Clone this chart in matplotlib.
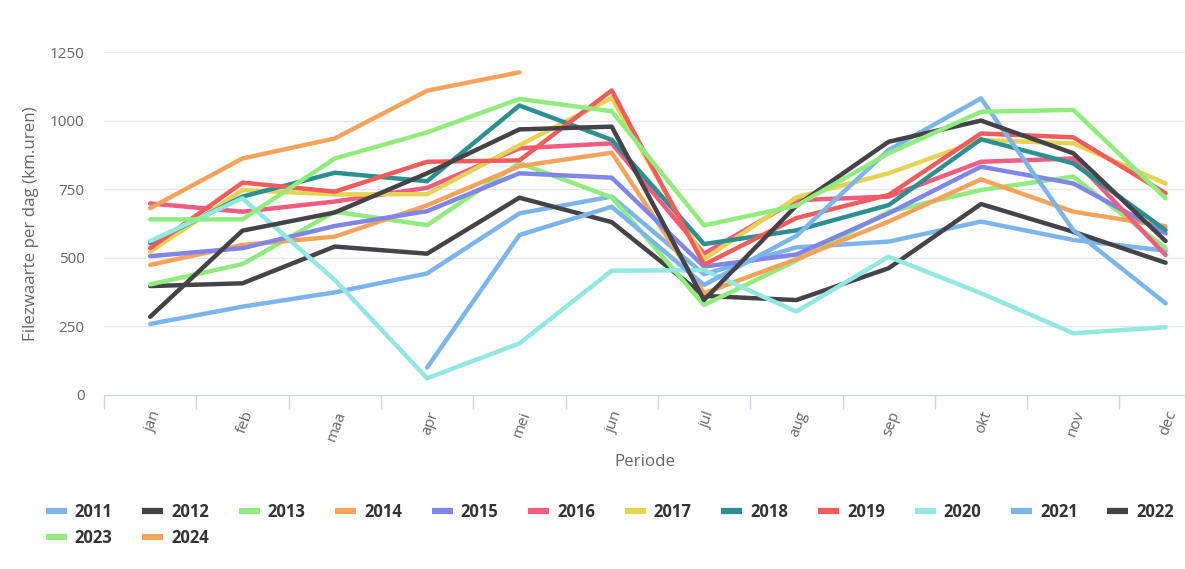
import numpy as np
import matplotlib.pyplot as plt
from matplotlib.lines import Line2D

plt.rcParams['font.family'] = ['Open Sans', 'DejaVu Sans']

maanden = ["jan", "feb", "maa", "apr", "mei", "jun", "jul", "aug", "sep", "okt", "nov", "dec"]
jaren = ["2011", "2012", "2013", "2014", "2015", "2016", "2017",
         "2018", "2019", "2020", "2021", "2022", "2023", "2024"]

nan = np.nan
y2011 = [259, 322, 374, 443, 662, 723, 440, 538, 559, 632, 565, 526]
y2012 = [397, 407, 541, 515, 719, 630, 361, 346, 462, 696, 595, 482]
y2013 = [403, 477, 668, 619, 845, 720, 328, 490, 668, 747, 796, 535]
y2014 = [474, 547, 577, 691, 834, 883, 371, 495, 632, 786, 668, 615]
y2015 = [506, 535, 616, 670, 808, 792, 468, 512, 662, 832, 771, 589]
y2016 = [698, 668, 705, 755, 899, 917, 515, 710, 723, 850, 862, 510]
y2017 = [522, 747, 731, 732, 910, 1083, 495, 720, 808, 929, 917, 771]
y2018 = [554, 723, 810, 779, 1055, 930, 550, 600, 692, 932, 844, 601]
y2019 = [535, 774, 741, 850, 855, 1110, 475, 645, 729, 953, 939, 735]
y2020 = [561, 717, 419, 61, 188, 453, 455, 304, 504, 371, 225, 247]
y2021 = [nan, nan, nan, 100, 583, 686, 401, 580, 893, 1081, 601, 334]
y2022 = [285, 599, 665, 808, 968, 978, 346, 690, 923, 1000, 881, 561]
y2023 = [640, 640, 862, 957, 1079, 1034, 618, 690, 881, 1032, 1039, 717]
y2024 = [681, 862, 935, 1109, 1176, nan, nan, nan, nan, nan, nan, nan]

reeksen = [y2011, y2012, y2013, y2014, y2015, y2016, y2017,
           y2018, y2019, y2020, y2021, y2022, y2023, y2024]

kleuren = ["#7cb5ec", "#434348", "#90ed7d", "#f7a35c", "#8085e9", "#f15c80", "#e4d354",
           "#2b908f", "#f45b5b", "#91e8e1", "#7cb5ec", "#434348", "#90ed7d", "#f7a35c"]

fig = plt.figure(figsize=(11.85, 5.69), dpi=100)
ax = fig.add_axes([104 / 1185, 174 / 569, 1 - 104 / 1185, 343 / 569])

x = np.arange(len(maanden))
for jaar, waarden, kleur in zip(jaren, reeksen, kleuren):
    ax.plot(x, waarden, color=kleur, lw=3.2, solid_joinstyle="round",
            solid_capstyle="round", label=jaar)

ax.set_yticks([0, 250, 500, 750, 1000, 1250])
ax.yaxis.grid(True, color="#e6e6e6", lw=1)
ax.set_axisbelow(True)
for s in ["top", "right", "left"]:
    ax.spines[s].set_visible(False)
ax.spines["bottom"].set_color("#ccd6eb")
ax.tick_params(axis="y", length=0, labelsize=11, labelcolor="#666666", pad=14)

ax.set_xticks(x)
ax.set_xticklabels(maanden, rotation=70, ha="right", va="top", rotation_mode="anchor")
ax.tick_params(axis="x", which="major", length=0, labelsize=11, labelcolor="#666666", pad=10)
ax.set_xticks(np.arange(-0.5, 12, 1), minor=True)
ax.tick_params(axis="x", which="minor", length=10, color="#ccd6eb", width=1)

# limieten pas na de ticks zetten, anders worden ze opgerekt
ax.set_xlim(-0.5, 11.21)
ax.set_ylim(0, 1250)

ax.set_xlabel("Periode", fontsize=12.2, color="#666666", labelpad=8)
ax.set_ylabel("Filezwaarte per dag (km.uren)", fontsize=12.2, color="#666666", labelpad=8)

# legenda: kolomsgewijs gevuld, dus volgorde aanpassen voor 2 rijen
volgorde = [0, 12, 1, 13] + list(range(2, 12))
leg_handles = [Line2D([0], [0], color=kleuren[i], lw=4.5, solid_capstyle="butt") for i in volgorde]
leg_labels = [jaren[i] for i in volgorde]
fig.legend(leg_handles, leg_labels, ncol=12, loc="upper left", bbox_to_anchor=(0.026, 0.143),
           frameon=False, handlelength=1.26, handletextpad=0.48, columnspacing=1.78,
           labelspacing=0.48, prop={"weight": "bold", "size": 12}, labelcolor="#333333")

fig.savefig("out.png", dpi=100)
